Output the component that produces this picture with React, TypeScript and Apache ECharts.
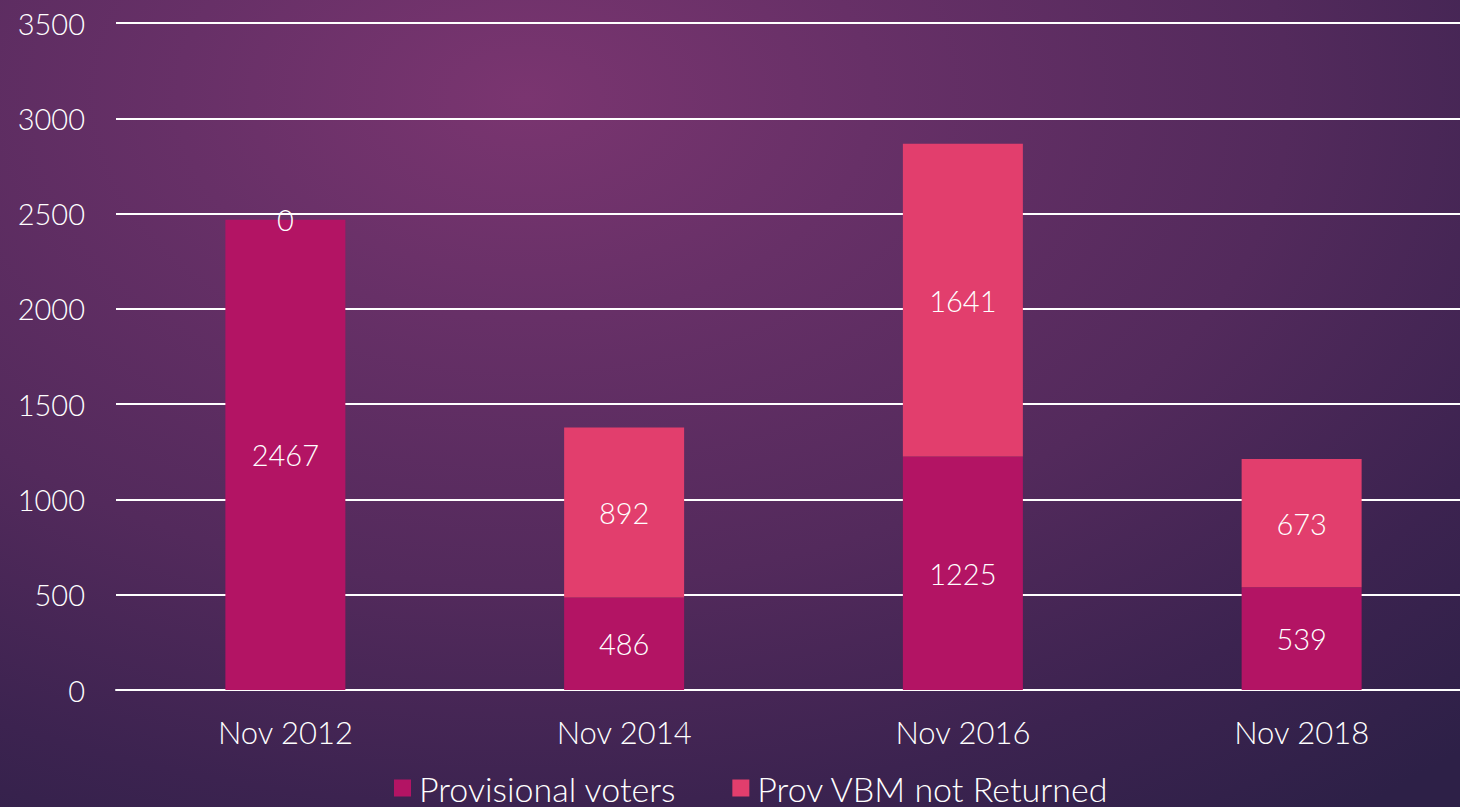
import React, { useEffect, useRef } from "react";
import * as echarts from "echarts";

const categories = ["Nov 2012", "Nov 2014", "Nov 2016", "Nov 2018"];
const provisionalVoters = [2467, 486, 1225, 539];
const provVbmNotReturned = [0, 892, 1641, 673];

const FONT = "Lato, 'Open Sans', sans-serif";

export default function App() {
  const ref = useRef<HTMLDivElement>(null);
  useEffect(() => {
    document.body.style.margin = "0";
    const chart = echarts.init(ref.current!, null, { renderer: "svg" });
    const labelStyle = {
      show: true,
      position: "inside" as const,
      color: "#ffffff",
      fontSize: 29,
      fontFamily: FONT,
      fontWeight: 300,
    };
    chart.setOption({
      animation: false,
      backgroundColor: "transparent",
      grid: { left: 116, top: 23, bottom: 117, width: 1355, outerBoundsMode: "none", containLabel: false },
      legend: {
        top: 771,
        left: 394,
        padding: 0,
        itemWidth: 17,
        itemHeight: 17,
        itemGap: 56,
        icon: "rect",
        textStyle: {
          color: "#ffffff",
          fontSize: 34,
          lineHeight: 34,
          fontFamily: FONT,
          fontWeight: 300,
          padding: [0, 0, 0, 3],
        },
        data: ["Provisional voters", "Prov VBM not Returned"],
      },
      xAxis: {
        type: "category",
        data: categories,
        axisLine: { lineStyle: { color: "#ffffff", width: 2 } },
        axisTick: { show: false },
        axisLabel: { color: "#ffffff", fontSize: 31, fontFamily: FONT, fontWeight: 300, margin: 26 },
      },
      yAxis: {
        type: "value",
        min: 0,
        max: 3500,
        interval: 500,
        axisLine: { show: false },
        axisTick: { show: false },
        splitLine: { lineStyle: { color: "#ffffff", width: 2 } },
        axisLabel: {
          color: "#ffffff",
          fontSize: 29,
          fontFamily: FONT,
          fontWeight: 300,
          margin: 31,
          formatter: (v: number) => String(v),
        },
      },
      series: [
        {
          name: "Provisional voters",
          type: "bar",
          stack: "total",
          barWidth: 120,
          data: provisionalVoters,
          itemStyle: { color: "#b31464" },
          label: labelStyle,
        },
        {
          name: "Prov VBM not Returned",
          type: "bar",
          stack: "total",
          barWidth: 120,
          data: provVbmNotReturned,
          itemStyle: { color: "#e23e6d" },
          label: labelStyle,
        },
      ],
    });
    return () => chart.dispose();
  }, []);
  return (
    <div
      style={{
        position: "absolute",
        left: 0,
        top: 0,
        width: 1460,
        height: 807,
        background:
          "radial-gradient(ellipse 95% 110% at 36% 12%, #7a3570 0%, #673067 25%, #532a5c 55%, #3c2350 80%, #2d2047 100%)",
      }}
    >
      <div ref={ref} style={{ width: 1460, height: 807 }} />
    </div>
  );
}
